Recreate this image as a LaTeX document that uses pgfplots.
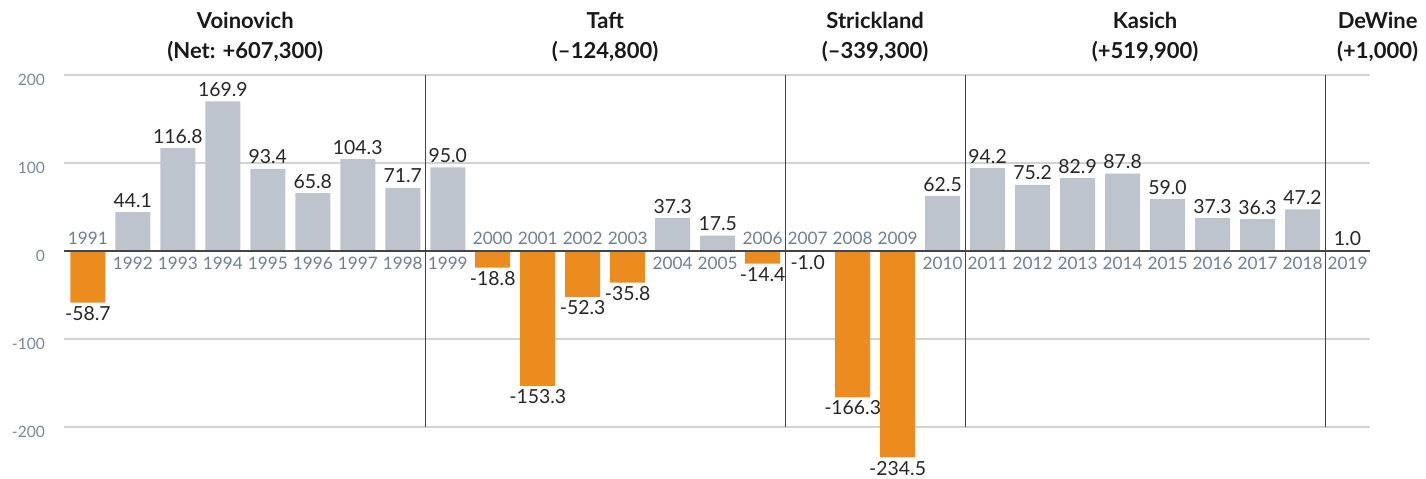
\documentclass[border=0pt]{standalone}
\usepackage{pgfplots}
\pgfplotsset{compat=1.18}
\usepackage{pgfplotstable}
\usepackage{fontspec}
\setmainfont{Lato}
\definecolor{barGray}{HTML}{BDC4CE}
\definecolor{barOrange}{HTML}{EC8C1E}
\definecolor{yearCol}{HTML}{6F7F90}
\definecolor{tickCol}{HTML}{7A8899}
\definecolor{gridCol}{HTML}{D2D2D2}
\definecolor{lineCol}{HTML}{444444}

% index, value (index 0 = 1991)
\pgfplotstableread{
x y
1 44.1
2 116.8
3 169.9
4 93.4
5 65.8
6 104.3
7 71.7
8 95.0
13 37.3
14 17.5
19 62.5
20 94.2
21 75.2
22 82.9
23 87.8
24 59.0
25 37.3
26 36.3
27 47.2
28 1.0
}\gains
\pgfplotstableread{
x y
0 -58.7
9 -18.8
10 -153.3
11 -52.3
12 -35.8
15 -14.4
16 -1.0
17 -166.3
18 -234.5
}\losses
% year labels under the zero line (gain years)
\pgfplotstableread{
x y lab
1 0 1992
2 0 1993
3 0 1994
4 0 1995
5 0 1996
6 0 1997
7 0 1998
8 0 1999
13 0 2004
14 0 2005
19 0 2010
20 0 2011
21 0 2012
22 0 2013
23 0 2014
24 0 2015
25 0 2016
26 0 2017
27 0 2018
28 0 2019
}\yearsBelow
% year labels above the zero line (loss years)
\pgfplotstableread{
x y lab
0 0 1991
9 0 2000
10 0 2001
11 0 2002
12 0 2003
15 0 2006
16 0 2007
17 0 2008
18 0 2009
}\yearsAbove

\begin{document}
\begin{tikzpicture}
\begin{axis}[
    name=ax,
    scale only axis,
    width=653pt, height=198pt,
    xmin=-0.53, xmax=28.5,
    ymin=-250, ymax=200,
    clip=false,
    axis line style={draw=none},
    tick style={draw=none},
    xtick=\empty,
    ytick={-200,-100,0,100,200},
    ymajorgrids=true,
    grid style={gridCol, line width=0.6pt},
    /pgf/number format/assume math mode=true,
    yticklabel style={font=\fontsize{7.8}{9}\selectfont, text=tickCol,
        anchor=east, xshift=-6pt, yshift=-2.5pt},
]
\addplot[ybar, bar width=17.5pt, bar shift=0pt, fill=barGray, draw=none,
    nodes near coords,
    nodes near coords style={font=\fontsize{9.7}{11}\selectfont, text=black!85,
        inner sep=2.2pt, /pgf/number format/.cd, fixed, fixed zerofill,
        precision=1, assume math mode=true}]
    table[x=x, y=y] {\gains};
\addplot[ybar, bar width=17.5pt, bar shift=0pt, fill=barOrange, draw=none,
    nodes near coords,
    nodes near coords style={font=\fontsize{9.7}{11}\selectfont, text=black!85,
        inner sep=1.6pt, /pgf/number format/.cd, fixed, fixed zerofill,
        precision=1, assume math mode=true}]
    table[x=x, y=y] {\losses};
\addplot[draw=none, mark=none, forget plot,
    nodes near coords, point meta=explicit symbolic,
    every node near coord/.append style={anchor=north, yshift=-3pt,
        font=\fontsize{8.6}{10}\selectfont, text=yearCol, inner sep=0pt}]
    table[x=x, y=y, meta=lab] {\yearsBelow};
\addplot[draw=none, mark=none, forget plot,
    nodes near coords, point meta=explicit symbolic,
    every node near coord/.append style={anchor=south, yshift=3pt,
        font=\fontsize{8.6}{10}\selectfont, text=yearCol, inner sep=0pt}]
    table[x=x, y=y, meta=lab] {\yearsAbove};

% zero line and term separators
\draw[lineCol, line width=1pt] (axis cs:-0.53,0) -- (axis cs:28.5,0);
\draw[lineCol, line width=0.5pt] (axis cs:7.5,200) -- (axis cs:7.5,-200);
\draw[lineCol, line width=0.5pt] (axis cs:15.5,200) -- (axis cs:15.5,-200);
\draw[lineCol, line width=0.5pt] (axis cs:19.5,200) -- (axis cs:19.5,-200);
\draw[lineCol, line width=0.5pt] (axis cs:27.5,200) -- (axis cs:27.5,-200);

% governor headers
\begin{scope}[every node/.style={font=\bfseries\fontsize{11}{15}\selectfont,
        align=center, text=black!90}]
\node at (axis cs:3.5,243) {Voinovich\\(Net: +607,300)};
\node at (axis cs:11.5,243) {Taft\\(–124,800)};
\node at (axis cs:17.5,243) {Strickland\\(–339,300)};
\node at (axis cs:23.5,243) {Kasich\\(+519,900)};
\node at (axis cs:28.67,243) {DeWine\\(+1,000)};
\end{scope}
\end{axis}
\pgfresetboundingbox
\path[use as bounding box] ([xshift=-32pt,yshift=-4pt]ax.south west)
    rectangle ([xshift=28pt,yshift=37.5pt]ax.north east);
\end{tikzpicture}
\end{document}
